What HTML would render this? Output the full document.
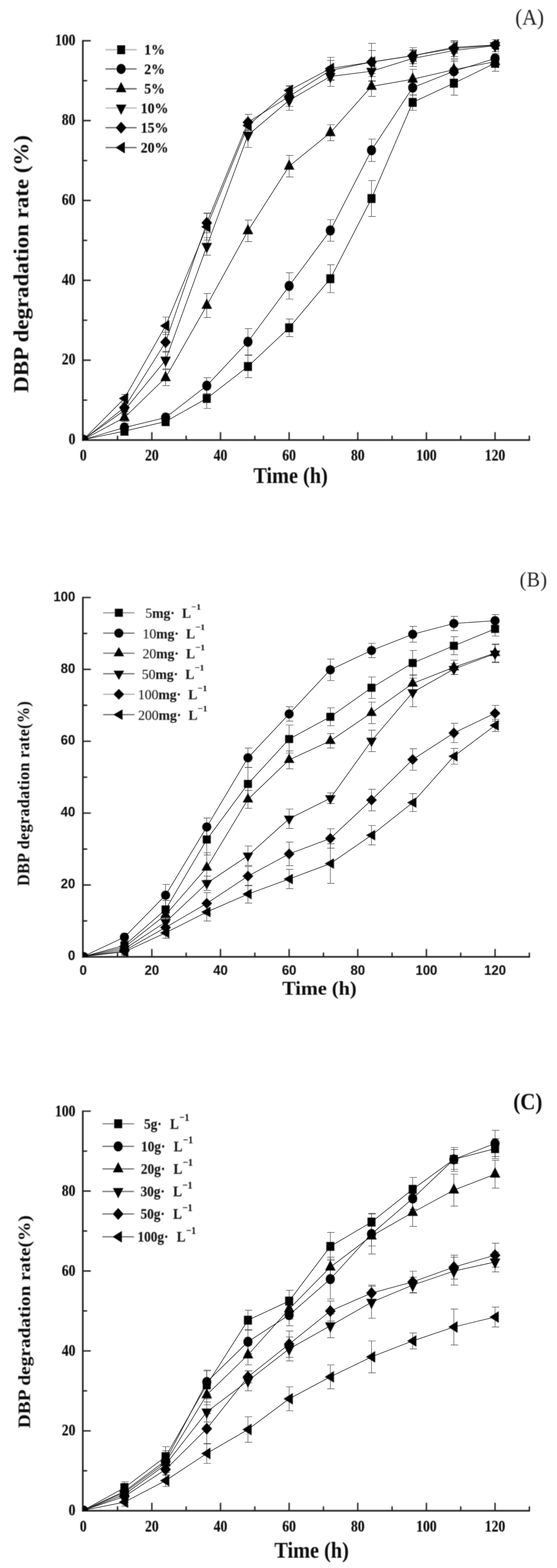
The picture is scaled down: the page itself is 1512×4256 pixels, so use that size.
<!DOCTYPE html>
<html lang="en"><head><meta charset="utf-8"><title>DBP degradation rate</title>
<style>html,body{margin:0;padding:0;background:#fff}svg{display:block}text{white-space:pre}.lh,.lc,.eh,.ec{fill:none}.lh{stroke:#000;stroke-opacity:.2;stroke-width:2.8}.lc{stroke:#2a2a2a;stroke-width:1.4}.eh{stroke:#000;stroke-opacity:.13;stroke-width:2.5}.ec{stroke:#444;stroke-width:1.15}</style></head><body>
<svg width="1512" height="4256" viewBox="0 0 1512 4256">
<rect width="1512" height="4256" fill="#fff"/>
<defs>
<filter id="soft0" x="0" y="0" width="1512" height="1420" filterUnits="userSpaceOnUse"><feGaussianBlur stdDeviation="1"/></filter>
<filter id="soft1" x="0" y="1420" width="1512" height="1440" filterUnits="userSpaceOnUse"><feGaussianBlur stdDeviation="1"/></filter>
<filter id="soft2" x="0" y="2860" width="1512" height="1396" filterUnits="userSpaceOnUse"><feGaussianBlur stdDeviation="1"/></filter>
</defs>
<g id="linesA">
<polyline class="lh" points="225.9,1193.4 337.69,1170.26 449.48,1144.27 561.28,1081.45 673.07,994.81 784.86,889.76 896.65,756.55 1008.44,538.87 1120.24,277.87 1232.03,225.88 1343.82,171.73"/><polyline class="lc" points="225.9,1193.4 337.69,1170.26 449.48,1144.27 561.28,1081.45 673.07,994.81 784.86,889.76 896.65,756.55 1008.44,538.87 1120.24,277.87 1232.03,225.88 1343.82,171.73"/>
<path class="eh" d="M337.69 1181.09V1159.43M329.19 1159.43h20M329.19 1181.09h20M449.48 1155.1V1133.43M440.98 1133.43h20M440.98 1155.1h20M561.28 1108.53V1054.38M552.78 1054.38h20M552.78 1108.53h20M673.07 1025.13V964.49M664.57 964.49h20M664.57 1025.13h20M784.86 913.59V865.93M776.36 865.93h20M776.36 913.59h20M896.65 794.46V718.65M888.15 718.65h20M888.15 794.46h20M1008.44 587.6V490.13M999.94 490.13h20M999.94 587.6h20M1120.24 299.52V256.21M1111.74 256.21h20M1111.74 299.52h20M1232.03 258.37V193.39M1223.53 193.39h20M1223.53 258.37h20M1343.82 193.39V150.07M1335.32 150.07h20M1335.32 193.39h20"/><path class="ec" d="M337.69 1181.09V1159.43M329.19 1159.43h20M329.19 1181.09h20M449.48 1155.1V1133.43M440.98 1133.43h20M440.98 1155.1h20M561.28 1108.53V1054.38M552.78 1054.38h20M552.78 1108.53h20M673.07 1025.13V964.49M664.57 964.49h20M664.57 1025.13h20M784.86 913.59V865.93M776.36 865.93h20M776.36 913.59h20M896.65 794.46V718.65M888.15 718.65h20M888.15 794.46h20M1008.44 587.6V490.13M999.94 490.13h20M999.94 587.6h20M1120.24 299.52V256.21M1111.74 256.21h20M1111.74 299.52h20M1232.03 258.37V193.39M1223.53 193.39h20M1223.53 258.37h20M1343.82 193.39V150.07M1335.32 150.07h20M1335.32 193.39h20"/>
<polyline class="lh" points="225.9,1193.4 337.69,1160.51 449.48,1133.43 561.28,1046.8 673.07,927.66 784.86,776.05 896.65,625.51 1008.44,407.83 1120.24,237.79 1232.03,193.39 1343.82,158.73"/><polyline class="lc" points="225.9,1193.4 337.69,1160.51 449.48,1133.43 561.28,1046.8 673.07,927.66 784.86,776.05 896.65,625.51 1008.44,407.83 1120.24,237.79 1232.03,193.39 1343.82,158.73"/>
<path class="eh" d="M337.69 1171.34V1149.68M329.19 1149.68h20M329.19 1171.34h20M449.48 1144.27V1122.61M440.98 1122.61h20M440.98 1144.27h20M561.28 1068.45V1025.13M552.78 1025.13h20M552.78 1068.45h20M673.07 963.4V891.93M664.57 891.93h20M664.57 963.4h20M784.86 811.78V740.31M776.36 740.31h20M776.36 811.78h20M896.65 654.75V596.27M888.15 596.27h20M888.15 654.75h20M1008.44 438.15V377.5M999.94 377.5h20M999.94 438.15h20M1120.24 259.45V216.13M1111.74 216.13h20M1111.74 259.45h20M1232.03 220.47V166.32M1223.53 166.32h20M1223.53 220.47h20M1343.82 171.73V145.74M1335.32 145.74h20M1335.32 171.73h20"/><path class="ec" d="M337.69 1171.34V1149.68M329.19 1149.68h20M329.19 1171.34h20M449.48 1144.27V1122.61M440.98 1122.61h20M440.98 1144.27h20M561.28 1068.45V1025.13M552.78 1025.13h20M552.78 1068.45h20M673.07 963.4V891.93M664.57 891.93h20M664.57 963.4h20M784.86 811.78V740.31M776.36 740.31h20M776.36 811.78h20M896.65 654.75V596.27M888.15 596.27h20M888.15 654.75h20M1008.44 438.15V377.5M999.94 377.5h20M999.94 438.15h20M1120.24 259.45V216.13M1111.74 216.13h20M1111.74 259.45h20M1232.03 220.47V166.32M1223.53 166.32h20M1223.53 220.47h20M1343.82 171.73V145.74M1335.32 145.74h20M1335.32 171.73h20"/>
<polyline class="lh" points="225.9,1193.4 337.69,1133.43 449.48,1025.13 561.28,829.11 673.07,626.59 784.86,451.14 896.65,360.17 1008.44,234.54 1120.24,215.05 1232.03,189.06 1343.82,167.4"/><polyline class="lc" points="225.9,1193.4 337.69,1133.43 449.48,1025.13 561.28,829.11 673.07,626.59 784.86,451.14 896.65,360.17 1008.44,234.54 1120.24,215.05 1232.03,189.06 1343.82,167.4"/>
<path class="eh" d="M337.69 1144.27V1122.61M329.19 1122.61h20M329.19 1144.27h20M449.48 1046.8V1003.48M440.98 1003.48h20M440.98 1046.8h20M561.28 861.6V796.62M552.78 796.62h20M552.78 861.6h20M673.07 655.83V597.35M664.57 597.35h20M664.57 655.83h20M784.86 480.39V421.9M776.36 421.9h20M776.36 480.39h20M896.65 381.83V338.51M888.15 338.51h20M888.15 381.83h20M1008.44 261.62V207.47M999.94 207.47h20M999.94 261.62h20M1120.24 242.13V187.98M1111.74 187.98h20M1111.74 242.13h20M1232.03 216.13V161.98M1223.53 161.98h20M1223.53 216.13h20M1343.82 182.56V152.24M1335.32 152.24h20M1335.32 182.56h20"/><path class="ec" d="M337.69 1144.27V1122.61M329.19 1122.61h20M329.19 1144.27h20M449.48 1046.8V1003.48M440.98 1003.48h20M440.98 1046.8h20M561.28 861.6V796.62M552.78 796.62h20M552.78 861.6h20M673.07 655.83V597.35M664.57 597.35h20M664.57 655.83h20M784.86 480.39V421.9M776.36 421.9h20M776.36 480.39h20M896.65 381.83V338.51M888.15 338.51h20M888.15 381.83h20M1008.44 261.62V207.47M999.94 207.47h20M999.94 261.62h20M1120.24 242.13V187.98M1111.74 187.98h20M1111.74 242.13h20M1232.03 216.13V161.98M1223.53 161.98h20M1223.53 216.13h20M1343.82 182.56V152.24M1335.32 152.24h20M1335.32 182.56h20"/>
<polyline class="lh" points="225.9,1193.4 337.69,1113.94 449.48,977.48 561.28,668.83 673.07,366.67 784.86,272.45 896.65,207.47 1008.44,193.39 1120.24,158.73 1232.03,137.08 1343.82,124.08"/><polyline class="lc" points="225.9,1193.4 337.69,1113.94 449.48,977.48 561.28,668.83 673.07,366.67 784.86,272.45 896.65,207.47 1008.44,193.39 1120.24,158.73 1232.03,137.08 1343.82,124.08"/>
<path class="eh" d="M337.69 1124.77V1103.11M329.19 1103.11h20M329.19 1124.77h20M449.48 1001.31V953.66M440.98 953.66h20M440.98 1001.31h20M561.28 692.65V645M552.78 645h20M552.78 692.65h20M673.07 400.24V333.1M664.57 333.1h20M664.57 400.24h20M784.86 299.52V245.38M776.36 245.38h20M776.36 299.52h20M896.65 234.54V180.39M888.15 180.39h20M888.15 234.54h20M1008.44 220.47V166.32M999.94 166.32h20M999.94 220.47h20M1120.24 180.39V137.08M1111.74 137.08h20M1111.74 180.39h20M1232.03 158.73V115.41M1223.53 115.41h20M1223.53 158.73h20M1343.82 140.32V107.83M1335.32 107.83h20M1335.32 140.32h20"/><path class="ec" d="M337.69 1124.77V1103.11M329.19 1103.11h20M329.19 1124.77h20M449.48 1001.31V953.66M440.98 953.66h20M440.98 1001.31h20M561.28 692.65V645M552.78 645h20M552.78 692.65h20M673.07 400.24V333.1M664.57 333.1h20M664.57 400.24h20M784.86 299.52V245.38M776.36 245.38h20M776.36 299.52h20M896.65 234.54V180.39M888.15 180.39h20M888.15 234.54h20M1008.44 220.47V166.32M999.94 166.32h20M999.94 220.47h20M1120.24 180.39V137.08M1111.74 137.08h20M1111.74 180.39h20M1232.03 158.73V115.41M1223.53 115.41h20M1223.53 158.73h20M1343.82 140.32V107.83M1335.32 107.83h20M1335.32 140.32h20"/>
<polyline class="lh" points="225.9,1193.4 337.69,1106.36 449.48,928.75 561.28,604.93 673.07,332.01 784.86,261.62 896.65,191.23 1008.44,168.48 1120.24,151.15 1232.03,131.66 1343.82,123"/><polyline class="lc" points="225.9,1193.4 337.69,1106.36 449.48,928.75 561.28,604.93 673.07,332.01 784.86,261.62 896.65,191.23 1008.44,168.48 1120.24,151.15 1232.03,131.66 1343.82,123"/>
<path class="eh" d="M337.69 1117.19V1095.53M329.19 1095.53h20M329.19 1117.19h20M449.48 955.82V901.67M440.98 901.67h20M440.98 955.82h20M561.28 632.01V577.86M552.78 577.86h20M552.78 632.01h20M673.07 353.67V310.36M664.57 310.36h20M664.57 353.67h20M784.86 288.7V234.54M776.36 234.54h20M776.36 288.7h20M896.65 218.3V164.15M888.15 164.15h20M888.15 218.3h20M1008.44 199.89V137.08M999.94 137.08h20M999.94 199.89h20M1120.24 172.81V129.49M1111.74 129.49h20M1111.74 172.81h20M1232.03 153.32V110M1223.53 110h20M1223.53 153.32h20M1343.82 131.66V114.33M1335.32 114.33h20M1335.32 131.66h20"/><path class="ec" d="M337.69 1117.19V1095.53M329.19 1095.53h20M329.19 1117.19h20M449.48 955.82V901.67M440.98 901.67h20M440.98 955.82h20M561.28 632.01V577.86M552.78 577.86h20M552.78 632.01h20M673.07 353.67V310.36M664.57 310.36h20M664.57 353.67h20M784.86 288.7V234.54M776.36 234.54h20M776.36 288.7h20M896.65 218.3V164.15M888.15 164.15h20M888.15 218.3h20M1008.44 199.89V137.08M999.94 137.08h20M999.94 199.89h20M1120.24 172.81V129.49M1111.74 129.49h20M1111.74 172.81h20M1232.03 153.32V110M1223.53 110h20M1223.53 153.32h20M1343.82 131.66V114.33M1335.32 114.33h20M1335.32 131.66h20"/>
<polyline class="lh" points="225.9,1193.4 337.69,1081.45 449.48,884.35 561.28,615.76 673.07,340.68 784.86,245.38 896.65,185.81 1008.44,168.48 1120.24,151.15 1232.03,128.41 1343.82,121.91"/><polyline class="lc" points="225.9,1193.4 337.69,1081.45 449.48,884.35 561.28,615.76 673.07,340.68 784.86,245.38 896.65,185.81 1008.44,168.48 1120.24,151.15 1232.03,128.41 1343.82,121.91"/>
<path class="eh" d="M337.69 1092.28V1070.62M329.19 1070.62h20M329.19 1092.28h20M449.48 908.17V860.52M440.98 860.52h20M440.98 908.17h20M561.28 651.5V580.02M552.78 580.02h20M552.78 651.5h20M673.07 353.67V327.68M664.57 327.68h20M664.57 353.67h20M784.86 258.37V232.38M776.36 232.38h20M776.36 258.37h20M896.65 216.13V155.49M888.15 155.49h20M888.15 216.13h20M1008.44 219.38V117.58M999.94 117.58h20M999.94 219.38h20M1120.24 167.4V134.91M1111.74 134.91h20M1111.74 167.4h20M1232.03 144.66V112.17M1223.53 112.17h20M1223.53 144.66h20M1343.82 130.58V113.25M1335.32 113.25h20M1335.32 130.58h20"/><path class="ec" d="M337.69 1092.28V1070.62M329.19 1070.62h20M329.19 1092.28h20M449.48 908.17V860.52M440.98 860.52h20M440.98 908.17h20M561.28 651.5V580.02M552.78 580.02h20M552.78 651.5h20M673.07 353.67V327.68M664.57 327.68h20M664.57 353.67h20M784.86 258.37V232.38M776.36 232.38h20M776.36 258.37h20M896.65 216.13V155.49M888.15 155.49h20M888.15 216.13h20M1008.44 219.38V117.58M999.94 117.58h20M999.94 219.38h20M1120.24 167.4V134.91M1111.74 134.91h20M1111.74 167.4h20M1232.03 144.66V112.17M1223.53 112.17h20M1223.53 144.66h20M1343.82 130.58V113.25M1335.32 113.25h20M1335.32 130.58h20"/>
</g>
<g id="chartA" filter="url(#soft0)">
<g stroke="#1a1a1a" stroke-width="4.3" fill="none">
<path d="M224.9 108.8 V1196.55"/>
<path d="M222.75 1194.4 H1438.78"/>
</g><g stroke="#1a1a1a" stroke-width="3.6" fill="none">
<path d="M224.9 1086.02h11.8M224.9 977.64h21.5M224.9 869.26h11.8M224.9 760.88h21.5M224.9 652.5h11.8M224.9 544.12h21.5M224.9 435.74h11.8M224.9 327.36h21.5M224.9 218.98h11.8M224.9 110.6h21.5M319.06 1194.4v-11.8M412.22 1194.4v-21.5M505.38 1194.4v-11.8M598.54 1194.4v-21.5M691.7 1194.4v-11.8M784.86 1194.4v-21.5M878.02 1194.4v-11.8M971.18 1194.4v-21.5M1064.34 1194.4v-11.8M1157.5 1194.4v-21.5M1250.66 1194.4v-11.8M1343.82 1194.4v-21.5M1436.98 1194.4v-11.8"/>
</g>
<g>
<text transform="translate(204.7,1205.8) scale(1,1.19)" font-family='"Liberation Serif", "DejaVu Serif", serif' font-size="37" font-weight="bold" text-anchor="end" fill="#111" stroke="#111" stroke-width="0.3">0</text>
<text transform="translate(204.7,989.2) scale(1,1.19)" font-family='"Liberation Serif", "DejaVu Serif", serif' font-size="37" font-weight="bold" text-anchor="end" fill="#111" stroke="#111" stroke-width="0.3">20</text>
<text transform="translate(204.7,772.6) scale(1,1.19)" font-family='"Liberation Serif", "DejaVu Serif", serif' font-size="37" font-weight="bold" text-anchor="end" fill="#111" stroke="#111" stroke-width="0.3">40</text>
<text transform="translate(204.7,556) scale(1,1.19)" font-family='"Liberation Serif", "DejaVu Serif", serif' font-size="37" font-weight="bold" text-anchor="end" fill="#111" stroke="#111" stroke-width="0.3">60</text>
<text transform="translate(204.7,339.4) scale(1,1.19)" font-family='"Liberation Serif", "DejaVu Serif", serif' font-size="37" font-weight="bold" text-anchor="end" fill="#111" stroke="#111" stroke-width="0.3">80</text>
<text transform="translate(204.7,122.8) scale(1,1.19)" font-family='"Liberation Serif", "DejaVu Serif", serif' font-size="37" font-weight="bold" text-anchor="end" fill="#111" stroke="#111" stroke-width="0.3">100</text>
<text transform="translate(225.9,1250) scale(1,1.19)" font-family='"Liberation Serif", "DejaVu Serif", serif' font-size="37" font-weight="bold" text-anchor="middle" fill="#111" stroke="#111" stroke-width="0.3">0</text>
<text transform="translate(412.22,1250) scale(1,1.19)" font-family='"Liberation Serif", "DejaVu Serif", serif' font-size="37" font-weight="bold" text-anchor="middle" fill="#111" stroke="#111" stroke-width="0.3">20</text>
<text transform="translate(598.54,1250) scale(1,1.19)" font-family='"Liberation Serif", "DejaVu Serif", serif' font-size="37" font-weight="bold" text-anchor="middle" fill="#111" stroke="#111" stroke-width="0.3">40</text>
<text transform="translate(784.86,1250) scale(1,1.19)" font-family='"Liberation Serif", "DejaVu Serif", serif' font-size="37" font-weight="bold" text-anchor="middle" fill="#111" stroke="#111" stroke-width="0.3">60</text>
<text transform="translate(971.18,1250) scale(1,1.19)" font-family='"Liberation Serif", "DejaVu Serif", serif' font-size="37" font-weight="bold" text-anchor="middle" fill="#111" stroke="#111" stroke-width="0.3">80</text>
<text transform="translate(1157.5,1250) scale(1,1.19)" font-family='"Liberation Serif", "DejaVu Serif", serif' font-size="37" font-weight="bold" text-anchor="middle" fill="#111" stroke="#111" stroke-width="0.3">100</text>
<text transform="translate(1343.82,1250) scale(1,1.19)" font-family='"Liberation Serif", "DejaVu Serif", serif' font-size="37" font-weight="bold" text-anchor="middle" fill="#111" stroke="#111" stroke-width="0.3">120</text>
</g>
<g fill="#000">
<rect x="326.84" y="1158.21" width="21.7" height="24.09"/>
<rect x="438.63" y="1132.22" width="21.7" height="24.09"/>
<rect x="550.43" y="1069.41" width="21.7" height="24.09"/>
<rect x="662.22" y="982.77" width="21.7" height="24.09"/>
<rect x="774.01" y="877.72" width="21.7" height="24.09"/>
<rect x="885.8" y="744.51" width="21.7" height="24.09"/>
<rect x="997.59" y="526.82" width="21.7" height="24.09"/>
<rect x="1109.39" y="265.82" width="21.7" height="24.09"/>
<rect x="1221.18" y="213.84" width="21.7" height="24.09"/>
<rect x="1332.97" y="159.69" width="21.7" height="24.09"/>
</g>
<g fill="#000">
<ellipse cx="337.69" cy="1160.51" rx="12.3" ry="13.65"/>
<ellipse cx="449.48" cy="1133.43" rx="12.3" ry="13.65"/>
<ellipse cx="561.28" cy="1046.8" rx="12.3" ry="13.65"/>
<ellipse cx="673.07" cy="927.66" rx="12.3" ry="13.65"/>
<ellipse cx="784.86" cy="776.05" rx="12.3" ry="13.65"/>
<ellipse cx="896.65" cy="625.51" rx="12.3" ry="13.65"/>
<ellipse cx="1008.44" cy="407.83" rx="12.3" ry="13.65"/>
<ellipse cx="1120.24" cy="237.79" rx="12.3" ry="13.65"/>
<ellipse cx="1232.03" cy="193.39" rx="12.3" ry="13.65"/>
<ellipse cx="1343.82" cy="158.73" rx="12.3" ry="13.65"/>
</g>
<g fill="#000">
<polygon points="337.69,1114.93 323.44,1142.68 351.94,1142.68"/>
<polygon points="449.48,1006.63 435.23,1034.38 463.73,1034.38"/>
<polygon points="561.28,810.61 547.03,838.36 575.53,838.36"/>
<polygon points="673.07,608.09 658.82,635.84 687.32,635.84"/>
<polygon points="784.86,432.64 770.61,460.39 799.11,460.39"/>
<polygon points="896.65,341.67 882.4,369.42 910.9,369.42"/>
<polygon points="1008.44,216.04 994.19,243.79 1022.69,243.79"/>
<polygon points="1120.24,196.55 1105.99,224.3 1134.49,224.3"/>
<polygon points="1232.03,170.56 1217.78,198.31 1246.28,198.31"/>
<polygon points="1343.82,148.9 1329.57,176.65 1358.07,176.65"/>
</g>
<g fill="#000">
<polygon points="337.69,1132.44 323.44,1104.69 351.94,1104.69"/>
<polygon points="449.48,995.98 435.23,968.23 463.73,968.23"/>
<polygon points="561.28,687.33 547.03,659.58 575.53,659.58"/>
<polygon points="673.07,385.17 658.82,357.42 687.32,357.42"/>
<polygon points="784.86,290.95 770.61,263.2 799.11,263.2"/>
<polygon points="896.65,225.97 882.4,198.22 910.9,198.22"/>
<polygon points="1008.44,211.89 994.19,184.14 1022.69,184.14"/>
<polygon points="1120.24,177.23 1105.99,149.48 1134.49,149.48"/>
<polygon points="1232.03,155.58 1217.78,127.83 1246.28,127.83"/>
<polygon points="1343.82,142.58 1329.57,114.83 1358.07,114.83"/>
</g>
<g fill="#000">
<polygon points="337.69,1090.26 352.19,1106.36 337.69,1122.45 323.19,1106.36"/>
<polygon points="449.48,912.65 463.98,928.75 449.48,944.84 434.98,928.75"/>
<polygon points="561.28,588.84 575.78,604.93 561.28,621.03 546.78,604.93"/>
<polygon points="673.07,315.92 687.57,332.01 673.07,348.11 658.57,332.01"/>
<polygon points="784.86,245.53 799.36,261.62 784.86,277.72 770.36,261.62"/>
<polygon points="896.65,175.13 911.15,191.23 896.65,207.32 882.15,191.23"/>
<polygon points="1008.44,152.39 1022.94,168.48 1008.44,184.58 993.94,168.48"/>
<polygon points="1120.24,135.06 1134.74,151.15 1120.24,167.25 1105.74,151.15"/>
<polygon points="1232.03,115.57 1246.53,131.66 1232.03,147.76 1217.53,131.66"/>
<polygon points="1343.82,106.9 1358.32,123 1343.82,139.09 1329.32,123"/>
</g>
<g fill="#000">
<polygon points="322.69,1081.45 347.69,1065.63 347.69,1097.27"/>
<polygon points="434.48,884.35 459.48,868.53 459.48,900.16"/>
<polygon points="546.28,615.76 571.28,599.94 571.28,631.58"/>
<polygon points="658.07,340.68 683.07,324.86 683.07,356.5"/>
<polygon points="769.86,245.38 794.86,229.56 794.86,261.19"/>
<polygon points="881.65,185.81 906.65,169.99 906.65,201.63"/>
<polygon points="993.44,168.48 1018.44,152.66 1018.44,184.3"/>
<polygon points="1105.24,151.15 1130.24,135.34 1130.24,166.97"/>
<polygon points="1217.03,128.41 1242.03,112.59 1242.03,144.23"/>
<polygon points="1328.82,121.91 1353.82,106.1 1353.82,137.73"/>
</g>
<path fill="#000" d="M224.9 1194.4H239.4A13 12.77 0 0 0 224.9 1180.13Z"/>
<path d="M286.5 135 H371" stroke="#aaa" stroke-width="2.8"/>
<g fill="#000"><rect x="317.95" y="122.96" width="21.7" height="24.09"/></g>
<text transform="translate(391.5,148.3) scale(1.04,1.11)" font-family='"Liberation Serif", "DejaVu Serif", serif' font-size="36" font-weight="bold" text-anchor="start" fill="#111" stroke="#111" stroke-width="0.3">1%</text>
<path d="M286.5 187.2 H371" stroke="#444" stroke-width="2.8"/>
<g fill="#000"><ellipse cx="328.8" cy="187.2" rx="12.3" ry="13.65"/></g>
<text transform="translate(391.5,200.5) scale(1.04,1.11)" font-family='"Liberation Serif", "DejaVu Serif", serif' font-size="36" font-weight="bold" text-anchor="start" fill="#111" stroke="#111" stroke-width="0.3">2%</text>
<path d="M286.5 241 H371" stroke="#444" stroke-width="2.8"/>
<g fill="#000"><polygon points="328.8,222.5 314.55,250.25 343.05,250.25"/></g>
<text transform="translate(391.5,254.3) scale(1.04,1.11)" font-family='"Liberation Serif", "DejaVu Serif", serif' font-size="36" font-weight="bold" text-anchor="start" fill="#111" stroke="#111" stroke-width="0.3">5%</text>
<path d="M286.5 293.2 H371" stroke="#aaa" stroke-width="2.8"/>
<g fill="#000"><polygon points="328.8,311.7 314.55,283.95 343.05,283.95"/></g>
<text transform="translate(382,306.5) scale(1.04,1.11)" font-family='"Liberation Serif", "DejaVu Serif", serif' font-size="36" font-weight="bold" text-anchor="start" fill="#111" stroke="#111" stroke-width="0.3">10%</text>
<path d="M286.5 346.6 H371" stroke="#444" stroke-width="2.8"/>
<g fill="#000"><polygon points="328.8,330.5 343.3,346.6 328.8,362.7 314.3,346.6"/></g>
<text transform="translate(382,359.9) scale(1.04,1.11)" font-family='"Liberation Serif", "DejaVu Serif", serif' font-size="36" font-weight="bold" text-anchor="start" fill="#111" stroke="#111" stroke-width="0.3">15%</text>
<path d="M286.5 400.6 H371" stroke="#444" stroke-width="2.8"/>
<g fill="#000"><polygon points="313.8,400.6 338.8,384.78 338.8,416.42"/></g>
<text transform="translate(382,413.9) scale(1.04,1.11)" font-family='"Liberation Serif", "DejaVu Serif", serif' font-size="36" font-weight="bold" text-anchor="start" fill="#111" stroke="#111" stroke-width="0.3">20%</text>
<text transform="translate(788.7,1311) scale(1,1.11)" font-family='"Liberation Serif", "DejaVu Serif", serif' font-size="55" font-weight="bold" text-anchor="middle" fill="#111">Time (h)</text>
<text transform="translate(76.5,716.3) rotate(-90) scale(1.11,1)" font-family='"Liberation Serif", "DejaVu Serif", serif' font-size="56" font-weight="bold" text-anchor="middle" fill="#111">DBP degradation rate (%)</text>
<text transform="translate(1437.7,67.2) scale(1,1.1)" font-family='"Liberation Serif", "DejaVu Serif", serif' font-size="56" font-weight="normal" text-anchor="middle" fill="#222">(A)</text>
</g>
<g id="linesB">
<polyline class="lh" points="226,2596.2 337.69,2566.08 449.48,2468.68 561.28,2278.75 673.07,2127.78 784.86,2006.03 896.65,1945.64 1008.44,1866.75 1120.24,1799.54 1232.03,1752.79 1343.82,1707.01"/><polyline class="lc" points="226,2596.2 337.69,2566.08 449.48,2468.68 561.28,2278.75 673.07,2127.78 784.86,2006.03 896.65,1945.64 1008.44,1866.75 1120.24,1799.54 1232.03,1752.79 1343.82,1707.01"/>
<path class="eh" d="M337.69 2575.82V2556.34M329.19 2556.34h20M329.19 2575.82h20M449.48 2493.03V2444.33M440.98 2444.33h20M440.98 2493.03h20M561.28 2320.63V2236.87M552.78 2236.87h20M552.78 2320.63h20M673.07 2172.58V2082.98M664.57 2082.98h20M664.57 2172.58h20M784.86 2044.02V1968.04M776.36 1968.04h20M776.36 2044.02h20M896.65 1969.99V1921.29M888.15 1921.29h20M888.15 1969.99h20M1008.44 1895.97V1837.53M999.94 1837.53h20M999.94 1895.97h20M1120.24 1833.63V1765.45M1111.74 1765.45h20M1111.74 1833.63h20M1232.03 1777.14V1728.44M1223.53 1728.44h20M1223.53 1777.14h20M1343.82 1726.49V1687.53M1335.32 1687.53h20M1335.32 1726.49h20"/><path class="ec" d="M337.69 2575.82V2556.34M329.19 2556.34h20M329.19 2575.82h20M449.48 2493.03V2444.33M440.98 2444.33h20M440.98 2493.03h20M561.28 2320.63V2236.87M552.78 2236.87h20M552.78 2320.63h20M673.07 2172.58V2082.98M664.57 2082.98h20M664.57 2172.58h20M784.86 2044.02V1968.04M776.36 1968.04h20M776.36 2044.02h20M896.65 1969.99V1921.29M888.15 1921.29h20M888.15 1969.99h20M1008.44 1895.97V1837.53M999.94 1837.53h20M999.94 1895.97h20M1120.24 1833.63V1765.45M1111.74 1765.45h20M1111.74 1833.63h20M1232.03 1777.14V1728.44M1223.53 1728.44h20M1223.53 1777.14h20M1343.82 1726.49V1687.53M1335.32 1687.53h20M1335.32 1726.49h20"/>
<polyline class="lh" points="226,2596.2 337.69,2543.68 449.48,2429.72 561.28,2244.66 673.07,2056.68 784.86,1937.85 896.65,1818.05 1008.44,1765.45 1120.24,1721.62 1232.03,1692.4 1343.82,1684.61"/><polyline class="lc" points="226,2596.2 337.69,2543.68 449.48,2429.72 561.28,2244.66 673.07,2056.68 784.86,1937.85 896.65,1818.05 1008.44,1765.45 1120.24,1721.62 1232.03,1692.4 1343.82,1684.61"/>
<path class="eh" d="M337.69 2553.42V2533.94M329.19 2533.94h20M329.19 2553.42h20M449.48 2458.94V2400.5M440.98 2400.5h20M440.98 2458.94h20M561.28 2269.01V2220.31M552.78 2220.31h20M552.78 2269.01h20M673.07 2082.98V2030.38M664.57 2030.38h20M664.57 2082.98h20M784.86 1957.33V1918.37M776.36 1918.37h20M776.36 1957.33h20M896.65 1847.27V1788.83M888.15 1788.83h20M888.15 1847.27h20M1008.44 1784.93V1745.97M999.94 1745.97h20M999.94 1784.93h20M1120.24 1743.05V1700.19M1111.74 1700.19h20M1111.74 1743.05h20M1232.03 1711.88V1672.92M1223.53 1672.92h20M1223.53 1711.88h20M1343.82 1701.17V1668.05M1335.32 1668.05h20M1335.32 1701.17h20"/><path class="ec" d="M337.69 2553.42V2533.94M329.19 2533.94h20M329.19 2553.42h20M449.48 2458.94V2400.5M440.98 2400.5h20M440.98 2458.94h20M561.28 2269.01V2220.31M552.78 2220.31h20M552.78 2269.01h20M673.07 2082.98V2030.38M664.57 2030.38h20M664.57 2082.98h20M784.86 1957.33V1918.37M776.36 1918.37h20M776.36 1957.33h20M896.65 1847.27V1788.83M888.15 1788.83h20M888.15 1847.27h20M1008.44 1784.93V1745.97M999.94 1745.97h20M999.94 1784.93h20M1120.24 1743.05V1700.19M1111.74 1700.19h20M1111.74 1743.05h20M1232.03 1711.88V1672.92M1223.53 1672.92h20M1223.53 1711.88h20M1343.82 1701.17V1668.05M1335.32 1668.05h20M1335.32 1701.17h20"/>
<polyline class="lh" points="226,2596.2 337.69,2570.95 449.48,2483.29 561.28,2354.72 673.07,2169.66 784.86,2062.52 896.65,2010.9 1008.44,1934.93 1120.24,1855.06 1232.03,1811.23 1343.82,1772.27"/><polyline class="lc" points="226,2596.2 337.69,2570.95 449.48,2483.29 561.28,2354.72 673.07,2169.66 784.86,2062.52 896.65,2010.9 1008.44,1934.93 1120.24,1855.06 1232.03,1811.23 1343.82,1772.27"/>
<path class="eh" d="M337.69 2580.69V2561.21M329.19 2561.21h20M329.19 2580.69h20M449.48 2502.77V2463.81M440.98 2463.81h20M440.98 2502.77h20M561.28 2388.81V2314.79M552.78 2314.79h20M552.78 2388.81h20M673.07 2194.01V2145.31M664.57 2145.31h20M664.57 2194.01h20M784.86 2086.87V2038.17M776.36 2038.17h20M776.36 2086.87h20M896.65 2030.38V1991.42M888.15 1991.42h20M888.15 2030.38h20M1008.44 1964.15V1905.71M999.94 1905.71h20M999.94 1964.15h20M1120.24 1879.41V1830.71M1111.74 1830.71h20M1111.74 1879.41h20M1232.03 1830.71V1791.75M1223.53 1791.75h20M1223.53 1830.71h20M1343.82 1796.62V1747.92M1335.32 1747.92h20M1335.32 1796.62h20"/><path class="ec" d="M337.69 2580.69V2561.21M329.19 2561.21h20M329.19 2580.69h20M449.48 2502.77V2463.81M440.98 2463.81h20M440.98 2502.77h20M561.28 2388.81V2314.79M552.78 2314.79h20M552.78 2388.81h20M673.07 2194.01V2145.31M664.57 2145.31h20M664.57 2194.01h20M784.86 2086.87V2038.17M776.36 2038.17h20M776.36 2086.87h20M896.65 2030.38V1991.42M888.15 1991.42h20M888.15 2030.38h20M1008.44 1964.15V1905.71M999.94 1905.71h20M999.94 1964.15h20M1120.24 1879.41V1830.71M1111.74 1830.71h20M1111.74 1879.41h20M1232.03 1830.71V1791.75M1223.53 1791.75h20M1223.53 1830.71h20M1343.82 1796.62V1747.92M1335.32 1747.92h20M1335.32 1796.62h20"/>
<polyline class="lh" points="226,2596.2 337.69,2575.82 449.48,2502.77 561.28,2397.58 673.07,2322.58 784.86,2222.26 896.65,2166.74 1008.44,2010.9 1120.24,1879.41 1232.03,1816.1 1343.82,1774.22"/><polyline class="lc" points="226,2596.2 337.69,2575.82 449.48,2502.77 561.28,2397.58 673.07,2322.58 784.86,2222.26 896.65,2166.74 1008.44,2010.9 1120.24,1879.41 1232.03,1816.1 1343.82,1774.22"/>
<path class="eh" d="M337.69 2585.56V2566.08M329.19 2566.08h20M329.19 2585.56h20M449.48 2517.38V2488.16M440.98 2488.16h20M440.98 2517.38h20M561.28 2417.06V2378.1M552.78 2378.1h20M552.78 2417.06h20M673.07 2348.88V2296.28M664.57 2296.28h20M664.57 2348.88h20M784.86 2248.56V2195.96M776.36 2195.96h20M776.36 2248.56h20M896.65 2181.35V2152.13M888.15 2152.13h20M888.15 2181.35h20M1008.44 2040.12V1981.68M999.94 1981.68h20M999.94 2040.12h20M1120.24 1918.37V1840.45M1111.74 1840.45h20M1111.74 1918.37h20M1232.03 1830.71V1801.49M1223.53 1801.49h20M1223.53 1830.71h20M1343.82 1798.57V1749.87M1335.32 1749.87h20M1335.32 1798.57h20"/><path class="ec" d="M337.69 2585.56V2566.08M329.19 2566.08h20M329.19 2585.56h20M449.48 2517.38V2488.16M440.98 2488.16h20M440.98 2517.38h20M561.28 2417.06V2378.1M552.78 2378.1h20M552.78 2417.06h20M673.07 2348.88V2296.28M664.57 2296.28h20M664.57 2348.88h20M784.86 2248.56V2195.96M776.36 2195.96h20M776.36 2248.56h20M896.65 2181.35V2152.13M888.15 2152.13h20M888.15 2181.35h20M1008.44 2040.12V1981.68M999.94 1981.68h20M999.94 2040.12h20M1120.24 1918.37V1840.45M1111.74 1840.45h20M1111.74 1918.37h20M1232.03 1830.71V1801.49M1223.53 1801.49h20M1223.53 1830.71h20M1343.82 1798.57V1749.87M1335.32 1749.87h20M1335.32 1798.57h20"/>
<polyline class="lh" points="226,2596.2 337.69,2580.69 449.48,2517.38 561.28,2452.12 673.07,2378.1 784.86,2317.71 896.65,2275.83 1008.44,2171.61 1120.24,2061.55 1232.03,1989.47 1343.82,1935.9"/><polyline class="lc" points="226,2596.2 337.69,2580.69 449.48,2517.38 561.28,2452.12 673.07,2378.1 784.86,2317.71 896.65,2275.83 1008.44,2171.61 1120.24,2061.55 1232.03,1989.47 1343.82,1935.9"/>
<path class="eh" d="M337.69 2590.43V2570.95M329.19 2570.95h20M329.19 2590.43h20M449.48 2531.99V2502.77M440.98 2502.77h20M440.98 2531.99h20M561.28 2481.34V2422.9M552.78 2422.9h20M552.78 2481.34h20M673.07 2404.4V2351.8M664.57 2351.8h20M664.57 2404.4h20M784.86 2349.85V2285.57M776.36 2285.57h20M776.36 2349.85h20M896.65 2302.13V2249.53M888.15 2249.53h20M888.15 2302.13h20M1008.44 2200.83V2142.39M999.94 2142.39h20M999.94 2200.83h20M1120.24 2090.77V2032.33M1111.74 2032.33h20M1111.74 2090.77h20M1232.03 2015.77V1963.17M1223.53 1963.17h20M1223.53 2015.77h20M1343.82 1957.33V1914.47M1335.32 1914.47h20M1335.32 1957.33h20"/><path class="ec" d="M337.69 2590.43V2570.95M329.19 2570.95h20M329.19 2590.43h20M449.48 2531.99V2502.77M440.98 2502.77h20M440.98 2531.99h20M561.28 2481.34V2422.9M552.78 2422.9h20M552.78 2481.34h20M673.07 2404.4V2351.8M664.57 2351.8h20M664.57 2404.4h20M784.86 2349.85V2285.57M776.36 2285.57h20M776.36 2349.85h20M896.65 2302.13V2249.53M888.15 2249.53h20M888.15 2302.13h20M1008.44 2200.83V2142.39M999.94 2142.39h20M999.94 2200.83h20M1120.24 2090.77V2032.33M1111.74 2032.33h20M1111.74 2090.77h20M1232.03 2015.77V1963.17M1223.53 1963.17h20M1223.53 2015.77h20M1343.82 1957.33V1914.47M1335.32 1914.47h20M1335.32 1957.33h20"/>
<polyline class="lh" points="226,2596.2 337.69,2583.61 449.48,2531.99 561.28,2475.5 673.07,2426.8 784.86,2385.89 896.65,2344.01 1008.44,2267.06 1120.24,2178.43 1232.03,2052.78 1343.82,1969.02"/><polyline class="lc" points="226,2596.2 337.69,2583.61 449.48,2531.99 561.28,2475.5 673.07,2426.8 784.86,2385.89 896.65,2344.01 1008.44,2267.06 1120.24,2178.43 1232.03,2052.78 1343.82,1969.02"/>
<path class="eh" d="M337.69 2593.35V2573.87M329.19 2573.87h20M329.19 2593.35h20M449.48 2546.6V2517.38M440.98 2517.38h20M440.98 2546.6h20M561.28 2499.85V2451.15M552.78 2451.15h20M552.78 2499.85h20M673.07 2451.15V2402.45M664.57 2402.45h20M664.57 2451.15h20M784.86 2412.19V2359.59M776.36 2359.59h20M776.36 2412.19h20M896.65 2397.58V2290.44M888.15 2290.44h20M888.15 2397.58h20M1008.44 2293.36V2240.76M999.94 2240.76h20M999.94 2293.36h20M1120.24 2202.78V2154.08M1111.74 2154.08h20M1111.74 2202.78h20M1232.03 2074.21V2031.35M1223.53 2031.35h20M1223.53 2074.21h20M1343.82 1985.58V1952.46M1335.32 1952.46h20M1335.32 1985.58h20"/><path class="ec" d="M337.69 2593.35V2573.87M329.19 2573.87h20M329.19 2593.35h20M449.48 2546.6V2517.38M440.98 2517.38h20M440.98 2546.6h20M561.28 2499.85V2451.15M552.78 2451.15h20M552.78 2499.85h20M673.07 2451.15V2402.45M664.57 2402.45h20M664.57 2451.15h20M784.86 2412.19V2359.59M776.36 2359.59h20M776.36 2412.19h20M896.65 2397.58V2290.44M888.15 2290.44h20M888.15 2397.58h20M1008.44 2293.36V2240.76M999.94 2240.76h20M999.94 2293.36h20M1120.24 2202.78V2154.08M1111.74 2154.08h20M1111.74 2202.78h20M1232.03 2074.21V2031.35M1223.53 2031.35h20M1223.53 2074.21h20M1343.82 1985.58V1952.46M1335.32 1952.46h20M1335.32 1985.58h20"/>
</g>
<g id="chartB" filter="url(#soft1)">
<g stroke="#1a1a1a" stroke-width="4.3" fill="none">
<path d="M225 1620 V2599.35"/>
<path d="M222.85 2597.2 H1438.78"/>
</g><g stroke="#1a1a1a" stroke-width="3.6" fill="none">
<path d="M225 2499.66h11.8M225 2402.12h21.5M225 2304.58h11.8M225 2207.04h21.5M225 2109.5h11.8M225 2011.96h21.5M225 1914.42h11.8M225 1816.88h21.5M225 1719.34h11.8M225 1621.8h21.5M319.06 2597.2v-11.8M412.22 2597.2v-21.5M505.38 2597.2v-11.8M598.54 2597.2v-21.5M691.7 2597.2v-11.8M784.86 2597.2v-21.5M878.02 2597.2v-11.8M971.18 2597.2v-21.5M1064.34 2597.2v-11.8M1157.5 2597.2v-21.5M1250.66 2597.2v-11.8M1343.82 2597.2v-21.5M1436.98 2597.2v-11.8"/>
</g>
<g>
<text transform="translate(204.2,2605.7) scale(1,1.05)" font-family='"Liberation Sans", "DejaVu Sans", sans-serif' font-size="35.5" font-weight="bold" text-anchor="end" fill="#111">0</text>
<text transform="translate(204.2,2410.9) scale(1,1.05)" font-family='"Liberation Sans", "DejaVu Sans", sans-serif' font-size="35.5" font-weight="bold" text-anchor="end" fill="#111">20</text>
<text transform="translate(204.2,2216.1) scale(1,1.05)" font-family='"Liberation Sans", "DejaVu Sans", sans-serif' font-size="35.5" font-weight="bold" text-anchor="end" fill="#111">40</text>
<text transform="translate(204.2,2021.3) scale(1,1.05)" font-family='"Liberation Sans", "DejaVu Sans", sans-serif' font-size="35.5" font-weight="bold" text-anchor="end" fill="#111">60</text>
<text transform="translate(204.2,1826.5) scale(1,1.05)" font-family='"Liberation Sans", "DejaVu Sans", sans-serif' font-size="35.5" font-weight="bold" text-anchor="end" fill="#111">80</text>
<text transform="translate(204.2,1631.7) scale(1,1.05)" font-family='"Liberation Sans", "DejaVu Sans", sans-serif' font-size="35.5" font-weight="bold" text-anchor="end" fill="#111">100</text>
<text transform="translate(225.9,2645.6) scale(1,1.05)" font-family='"Liberation Sans", "DejaVu Sans", sans-serif' font-size="35.5" font-weight="bold" text-anchor="middle" fill="#111">0</text>
<text transform="translate(412.22,2645.6) scale(1,1.05)" font-family='"Liberation Sans", "DejaVu Sans", sans-serif' font-size="35.5" font-weight="bold" text-anchor="middle" fill="#111">20</text>
<text transform="translate(598.54,2645.6) scale(1,1.05)" font-family='"Liberation Sans", "DejaVu Sans", sans-serif' font-size="35.5" font-weight="bold" text-anchor="middle" fill="#111">40</text>
<text transform="translate(784.86,2645.6) scale(1,1.05)" font-family='"Liberation Sans", "DejaVu Sans", sans-serif' font-size="35.5" font-weight="bold" text-anchor="middle" fill="#111">60</text>
<text transform="translate(971.18,2645.6) scale(1,1.05)" font-family='"Liberation Sans", "DejaVu Sans", sans-serif' font-size="35.5" font-weight="bold" text-anchor="middle" fill="#111">80</text>
<text transform="translate(1157.5,2645.6) scale(1,1.05)" font-family='"Liberation Sans", "DejaVu Sans", sans-serif' font-size="35.5" font-weight="bold" text-anchor="middle" fill="#111">100</text>
<text transform="translate(1343.82,2645.6) scale(1,1.05)" font-family='"Liberation Sans", "DejaVu Sans", sans-serif' font-size="35.5" font-weight="bold" text-anchor="middle" fill="#111">120</text>
</g>
<g fill="#000">
<rect x="326.84" y="2555.23" width="21.7" height="21.7"/>
<rect x="438.63" y="2457.83" width="21.7" height="21.7"/>
<rect x="550.43" y="2267.9" width="21.7" height="21.7"/>
<rect x="662.22" y="2116.93" width="21.7" height="21.7"/>
<rect x="774.01" y="1995.18" width="21.7" height="21.7"/>
<rect x="885.8" y="1934.79" width="21.7" height="21.7"/>
<rect x="997.59" y="1855.9" width="21.7" height="21.7"/>
<rect x="1109.39" y="1788.69" width="21.7" height="21.7"/>
<rect x="1221.18" y="1741.94" width="21.7" height="21.7"/>
<rect x="1332.97" y="1696.16" width="21.7" height="21.7"/>
</g>
<g fill="#000">
<ellipse cx="337.69" cy="2543.68" rx="12.3" ry="12.3"/>
<ellipse cx="449.48" cy="2429.72" rx="12.3" ry="12.3"/>
<ellipse cx="561.28" cy="2244.66" rx="12.3" ry="12.3"/>
<ellipse cx="673.07" cy="2056.68" rx="12.3" ry="12.3"/>
<ellipse cx="784.86" cy="1937.85" rx="12.3" ry="12.3"/>
<ellipse cx="896.65" cy="1818.05" rx="12.3" ry="12.3"/>
<ellipse cx="1008.44" cy="1765.45" rx="12.3" ry="12.3"/>
<ellipse cx="1120.24" cy="1721.62" rx="12.3" ry="12.3"/>
<ellipse cx="1232.03" cy="1692.4" rx="12.3" ry="12.3"/>
<ellipse cx="1343.82" cy="1684.61" rx="12.3" ry="12.3"/>
</g>
<g fill="#000">
<polygon points="337.69,2554.28 323.44,2579.28 351.94,2579.28"/>
<polygon points="449.48,2466.62 435.23,2491.62 463.73,2491.62"/>
<polygon points="561.28,2338.06 547.03,2363.06 575.53,2363.06"/>
<polygon points="673.07,2153 658.82,2178 687.32,2178"/>
<polygon points="784.86,2045.86 770.61,2070.86 799.11,2070.86"/>
<polygon points="896.65,1994.23 882.4,2019.23 910.9,2019.23"/>
<polygon points="1008.44,1918.26 994.19,1943.26 1022.69,1943.26"/>
<polygon points="1120.24,1838.39 1105.99,1863.39 1134.49,1863.39"/>
<polygon points="1232.03,1794.56 1217.78,1819.56 1246.28,1819.56"/>
<polygon points="1343.82,1755.6 1329.57,1780.6 1358.07,1780.6"/>
</g>
<g fill="#000">
<polygon points="337.69,2592.49 323.44,2567.49 351.94,2567.49"/>
<polygon points="449.48,2519.44 435.23,2494.44 463.73,2494.44"/>
<polygon points="561.28,2414.24 547.03,2389.24 575.53,2389.24"/>
<polygon points="673.07,2339.25 658.82,2314.25 687.32,2314.25"/>
<polygon points="784.86,2238.92 770.61,2213.92 799.11,2213.92"/>
<polygon points="896.65,2183.41 882.4,2158.41 910.9,2158.41"/>
<polygon points="1008.44,2027.57 994.19,2002.57 1022.69,2002.57"/>
<polygon points="1120.24,1896.08 1105.99,1871.08 1134.49,1871.08"/>
<polygon points="1232.03,1832.77 1217.78,1807.77 1246.28,1807.77"/>
<polygon points="1343.82,1790.88 1329.57,1765.88 1358.07,1765.88"/>
</g>
<g fill="#000">
<polygon points="337.69,2566.19 352.19,2580.69 337.69,2595.19 323.19,2580.69"/>
<polygon points="449.48,2502.88 463.98,2517.38 449.48,2531.88 434.98,2517.38"/>
<polygon points="561.28,2437.62 575.78,2452.12 561.28,2466.62 546.78,2452.12"/>
<polygon points="673.07,2363.6 687.57,2378.1 673.07,2392.6 658.57,2378.1"/>
<polygon points="784.86,2303.21 799.36,2317.71 784.86,2332.21 770.36,2317.71"/>
<polygon points="896.65,2261.33 911.15,2275.83 896.65,2290.33 882.15,2275.83"/>
<polygon points="1008.44,2157.11 1022.94,2171.61 1008.44,2186.11 993.94,2171.61"/>
<polygon points="1120.24,2047.05 1134.74,2061.55 1120.24,2076.05 1105.74,2061.55"/>
<polygon points="1232.03,1974.97 1246.53,1989.47 1232.03,2003.97 1217.53,1989.47"/>
<polygon points="1343.82,1921.4 1358.32,1935.9 1343.82,1950.4 1329.32,1935.9"/>
</g>
<g fill="#000">
<polygon points="322.69,2583.61 347.69,2569.36 347.69,2597.86"/>
<polygon points="434.48,2531.99 459.48,2517.74 459.48,2546.24"/>
<polygon points="546.28,2475.5 571.28,2461.25 571.28,2489.75"/>
<polygon points="658.07,2426.8 683.07,2412.55 683.07,2441.05"/>
<polygon points="769.86,2385.89 794.86,2371.64 794.86,2400.14"/>
<polygon points="881.65,2344.01 906.65,2329.76 906.65,2358.26"/>
<polygon points="993.44,2267.06 1018.44,2252.81 1018.44,2281.31"/>
<polygon points="1105.24,2178.43 1130.24,2164.18 1130.24,2192.68"/>
<polygon points="1217.03,2052.78 1242.03,2038.53 1242.03,2067.03"/>
<polygon points="1328.82,1969.02 1353.82,1954.77 1353.82,1983.27"/>
</g>
<path fill="#000" d="M225 2597.2H239.5A13 11.5 0 0 0 225 2584.2Z"/>
<path d="M280 1663.2 H365" stroke="#777" stroke-width="2.5"/>
<g fill="#000"><rect x="311.75" y="1652.35" width="21.7" height="21.7"/></g>
<text transform="translate(394.5,1677.2)" font-family='"Liberation Serif", "DejaVu Serif", serif' font-size="37" text-anchor="start" fill="#1a1a1a" stroke="#1a1a1a" stroke-width="0.2"><tspan font-weight="normal">5</tspan><tspan font-weight="bold">mg· </tspan><tspan font-weight="bold" dx="10">L</tspan><tspan font-weight="bold" font-size="24" dy="-22.5" dx="1">−1</tspan></text>
<path d="M280 1718.5 H365" stroke="#444" stroke-width="2.5"/>
<g fill="#000"><ellipse cx="322.6" cy="1718.5" rx="12.3" ry="12.3"/></g>
<text transform="translate(387,1732.5)" font-family='"Liberation Serif", "DejaVu Serif", serif' font-size="37" text-anchor="start" fill="#1a1a1a" stroke="#1a1a1a" stroke-width="0.2"><tspan font-weight="normal">10</tspan><tspan font-weight="bold">mg· </tspan><tspan font-weight="bold" dx="10">L</tspan><tspan font-weight="bold" font-size="24" dy="-22.5" dx="1">−1</tspan></text>
<path d="M280 1773 H365" stroke="#555" stroke-width="2.5"/>
<g fill="#000"><polygon points="322.6,1756.33 308.35,1781.33 336.85,1781.33"/></g>
<text transform="translate(387,1787)" font-family='"Liberation Serif", "DejaVu Serif", serif' font-size="37" text-anchor="start" fill="#1a1a1a" stroke="#1a1a1a" stroke-width="0.2"><tspan font-weight="normal">20</tspan><tspan font-weight="bold">mg· </tspan><tspan font-weight="bold" dx="10">L</tspan><tspan font-weight="bold" font-size="24" dy="-22.5" dx="1">−1</tspan></text>
<path d="M280 1828.8 H365" stroke="#444" stroke-width="2.5"/>
<g fill="#000"><polygon points="322.6,1845.47 308.35,1820.47 336.85,1820.47"/></g>
<text transform="translate(385,1842.8)" font-family='"Liberation Serif", "DejaVu Serif", serif' font-size="37" text-anchor="start" fill="#1a1a1a" stroke="#1a1a1a" stroke-width="0.2"><tspan font-weight="normal">50</tspan><tspan font-weight="bold">mg· </tspan><tspan font-weight="bold" dx="10">L</tspan><tspan font-weight="bold" font-size="24" dy="-22.5" dx="1">−1</tspan></text>
<path d="M280 1884.4 H365" stroke="#999" stroke-width="2.5"/>
<g fill="#000"><polygon points="322.6,1869.9 337.1,1884.4 322.6,1898.9 308.1,1884.4"/></g>
<text transform="translate(374.5,1898.4)" font-family='"Liberation Serif", "DejaVu Serif", serif' font-size="37" text-anchor="start" fill="#1a1a1a" stroke="#1a1a1a" stroke-width="0.2"><tspan font-weight="normal">100</tspan><tspan font-weight="bold">mg· </tspan><tspan font-weight="bold" dx="10">L</tspan><tspan font-weight="bold" font-size="24" dy="-22.5" dx="1">−1</tspan></text>
<path d="M280 1939.7 H365" stroke="#444" stroke-width="2.5"/>
<g fill="#000"><polygon points="307.6,1939.7 332.6,1925.45 332.6,1953.95"/></g>
<text transform="translate(375,1953.7)" font-family='"Liberation Serif", "DejaVu Serif", serif' font-size="37" text-anchor="start" fill="#1a1a1a" stroke="#1a1a1a" stroke-width="0.2"><tspan font-weight="normal">200</tspan><tspan font-weight="bold">mg· </tspan><tspan font-weight="bold" dx="10">L</tspan><tspan font-weight="bold" font-size="24" dy="-22.5" dx="1">−1</tspan></text>
<text transform="translate(867,2700) scale(1,0.95)" font-family='"Liberation Serif", "DejaVu Serif", serif' font-size="55" font-weight="bold" text-anchor="middle" fill="#111">Time (h)</text>
<text transform="translate(79.2,2153.7) rotate(-90) scale(0.96,1)" font-family='"Liberation Serif", "DejaVu Serif", serif' font-size="45.7" font-weight="bold" text-anchor="middle" fill="#111" letter-spacing="0.9">DBP degradation rate(%)</text>
<text transform="translate(1448.4,1591.5) scale(1,1.05)" font-family='"Liberation Serif", "DejaVu Serif", serif' font-size="54" font-weight="normal" text-anchor="middle" fill="#222" letter-spacing="1.2">(B)</text>
</g>
<g id="linesC">
<polyline class="lh" points="225.8,4099.6 337.69,4038.27 449.48,3953.8 561.28,3758.86 673.07,3583.41 784.86,3531.43 896.65,3383.05 1008.44,3316.99 1120.24,3228.18 1232.03,3146.96 1343.82,3117.72"/><polyline class="lc" points="225.8,4099.6 337.69,4038.27 449.48,3953.8 561.28,3758.86 673.07,3583.41 784.86,3531.43 896.65,3383.05 1008.44,3316.99 1120.24,3228.18 1232.03,3146.96 1343.82,3117.72"/>
<path class="eh" d="M337.69 4054.51V4022.02M329.19 4022.02h20M329.19 4054.51h20M449.48 3980.87V3926.72M440.98 3926.72h20M440.98 3980.87h20M561.28 3796.76V3720.95M552.78 3720.95h20M552.78 3796.76h20M673.07 3610.48V3556.33M664.57 3556.33h20M664.57 3610.48h20M784.86 3560.67V3502.18M776.36 3502.18h20M776.36 3560.67h20M896.65 3420.96V3345.15M888.15 3345.15h20M888.15 3420.96h20M1008.44 3340.82V3293.16M999.94 3293.16h20M999.94 3340.82h20M1120.24 3260.68V3195.7M1111.74 3195.7h20M1111.74 3260.68h20M1232.03 3174.03V3119.89M1223.53 3119.89h20M1223.53 3174.03h20M1343.82 3144.79V3090.64M1335.32 3090.64h20M1335.32 3144.79h20"/><path class="ec" d="M337.69 4054.51V4022.02M329.19 4022.02h20M329.19 4054.51h20M449.48 3980.87V3926.72M440.98 3926.72h20M440.98 3980.87h20M561.28 3796.76V3720.95M552.78 3720.95h20M552.78 3796.76h20M673.07 3610.48V3556.33M664.57 3556.33h20M664.57 3610.48h20M784.86 3560.67V3502.18M776.36 3502.18h20M776.36 3560.67h20M896.65 3420.96V3345.15M888.15 3345.15h20M888.15 3420.96h20M1008.44 3340.82V3293.16M999.94 3293.16h20M999.94 3340.82h20M1120.24 3260.68V3195.7M1111.74 3195.7h20M1111.74 3260.68h20M1232.03 3174.03V3119.89M1223.53 3119.89h20M1223.53 3174.03h20M1343.82 3144.79V3090.64M1335.32 3090.64h20M1335.32 3144.79h20"/>
<polyline class="lh" points="225.8,4099.6 337.69,4048.02 449.48,3964.62 561.28,3751.27 673.07,3641.89 784.86,3569.33 896.65,3471.86 1008.44,3349.48 1120.24,3253.09 1232.03,3146.96 1343.82,3103.64"/><polyline class="lc" points="225.8,4099.6 337.69,4048.02 449.48,3964.62 561.28,3751.27 673.07,3641.89 784.86,3569.33 896.65,3471.86 1008.44,3349.48 1120.24,3253.09 1232.03,3146.96 1343.82,3103.64"/>
<path class="eh" d="M337.69 4069.68V4026.36M329.19 4026.36h20M329.19 4069.68h20M449.48 3991.7V3937.55M440.98 3937.55h20M440.98 3991.7h20M561.28 3783.76V3718.78M552.78 3718.78h20M552.78 3783.76h20M673.07 3674.38V3609.4M664.57 3609.4h20M664.57 3674.38h20M784.86 3598.57V3540.09M776.36 3540.09h20M776.36 3598.57h20M896.65 3526.01V3417.71M888.15 3417.71h20M888.15 3526.01h20M1008.44 3403.63V3295.33M999.94 3295.33h20M999.94 3403.63h20M1120.24 3282.34V3223.85M1111.74 3223.85h20M1111.74 3282.34h20M1232.03 3179.45V3114.47M1223.53 3114.47h20M1223.53 3179.45h20M1343.82 3139.38V3067.9M1335.32 3067.9h20M1335.32 3139.38h20"/><path class="ec" d="M337.69 4069.68V4026.36M329.19 4026.36h20M329.19 4069.68h20M449.48 3991.7V3937.55M440.98 3937.55h20M440.98 3991.7h20M561.28 3783.76V3718.78M552.78 3718.78h20M552.78 3783.76h20M673.07 3674.38V3609.4M664.57 3609.4h20M664.57 3674.38h20M784.86 3598.57V3540.09M776.36 3540.09h20M776.36 3598.57h20M896.65 3526.01V3417.71M888.15 3417.71h20M888.15 3526.01h20M1008.44 3403.63V3295.33M999.94 3295.33h20M999.94 3403.63h20M1120.24 3282.34V3223.85M1111.74 3223.85h20M1111.74 3282.34h20M1232.03 3179.45V3114.47M1223.53 3114.47h20M1223.53 3179.45h20M1343.82 3139.38V3067.9M1335.32 3067.9h20M1335.32 3139.38h20"/>
<polyline class="lh" points="225.8,4099.6 337.69,4051.26 449.48,3970.04 561.28,3785.93 673.07,3677.63 784.86,3553.09 896.65,3439.37 1008.44,3354.9 1120.24,3291 1232.03,3230.35 1343.82,3187.03"/><polyline class="lc" points="225.8,4099.6 337.69,4051.26 449.48,3970.04 561.28,3785.93 673.07,3677.63 784.86,3553.09 896.65,3439.37 1008.44,3354.9 1120.24,3291 1232.03,3230.35 1343.82,3187.03"/>
<path class="eh" d="M337.69 4067.51V4035.02M329.19 4035.02h20M329.19 4067.51h20M449.48 3991.7V3948.38M440.98 3948.38h20M440.98 3991.7h20M561.28 3813.01V3758.86M552.78 3758.86h20M552.78 3813.01h20M673.07 3704.7V3650.55M664.57 3650.55h20M664.57 3704.7h20M784.86 3580.16V3526.01M776.36 3526.01h20M776.36 3580.16h20M896.65 3466.45V3412.3M888.15 3412.3h20M888.15 3466.45h20M1008.44 3381.97V3327.82M999.94 3327.82h20M999.94 3381.97h20M1120.24 3328.9V3253.09M1111.74 3253.09h20M1111.74 3328.9h20M1232.03 3273.67V3187.03M1223.53 3187.03h20M1223.53 3273.67h20M1343.82 3224.94V3149.13M1335.32 3149.13h20M1335.32 3224.94h20"/><path class="ec" d="M337.69 4067.51V4035.02M329.19 4035.02h20M329.19 4067.51h20M449.48 3991.7V3948.38M440.98 3948.38h20M440.98 3991.7h20M561.28 3813.01V3758.86M552.78 3758.86h20M552.78 3813.01h20M673.07 3704.7V3650.55M664.57 3650.55h20M664.57 3704.7h20M784.86 3580.16V3526.01M776.36 3526.01h20M776.36 3580.16h20M896.65 3466.45V3412.3M888.15 3412.3h20M888.15 3466.45h20M1008.44 3381.97V3327.82M999.94 3327.82h20M999.94 3381.97h20M1120.24 3328.9V3253.09M1111.74 3253.09h20M1111.74 3328.9h20M1232.03 3273.67V3187.03M1223.53 3187.03h20M1223.53 3273.67h20M1343.82 3224.94V3149.13M1335.32 3149.13h20M1335.32 3224.94h20"/>
<polyline class="lh" points="225.8,4099.6 337.69,4056.68 449.48,3975.45 561.28,3832.5 673.07,3748.03 784.86,3661.39 896.65,3598.57 1008.44,3534.67 1120.24,3488.11 1232.03,3450.2 1343.82,3425.29"/><polyline class="lc" points="225.8,4099.6 337.69,4056.68 449.48,3975.45 561.28,3832.5 673.07,3748.03 784.86,3661.39 896.65,3598.57 1008.44,3534.67 1120.24,3488.11 1232.03,3450.2 1343.82,3425.29"/>
<path class="eh" d="M337.69 4072.93V4040.43M329.19 4040.43h20M329.19 4072.93h20M449.48 3997.11V3953.8M440.98 3953.8h20M440.98 3997.11h20M561.28 3859.57V3805.42M552.78 3805.42h20M552.78 3859.57h20M673.07 3775.1V3720.95M664.57 3720.95h20M664.57 3775.1h20M784.86 3693.88V3628.89M776.36 3628.89h20M776.36 3693.88h20M896.65 3631.06V3566.08M888.15 3566.08h20M888.15 3631.06h20M1008.44 3577.99V3491.35M999.94 3491.35h20M999.94 3577.99h20M1120.24 3509.76V3466.45M1111.74 3466.45h20M1111.74 3509.76h20M1232.03 3488.11V3412.3M1223.53 3412.3h20M1223.53 3488.11h20M1343.82 3452.37V3398.22M1335.32 3398.22h20M1335.32 3452.37h20"/><path class="ec" d="M337.69 4072.93V4040.43M329.19 4040.43h20M329.19 4072.93h20M449.48 3997.11V3953.8M440.98 3953.8h20M440.98 3997.11h20M561.28 3859.57V3805.42M552.78 3805.42h20M552.78 3859.57h20M673.07 3775.1V3720.95M664.57 3720.95h20M664.57 3775.1h20M784.86 3693.88V3628.89M776.36 3628.89h20M776.36 3693.88h20M896.65 3631.06V3566.08M888.15 3566.08h20M888.15 3631.06h20M1008.44 3577.99V3491.35M999.94 3491.35h20M999.94 3577.99h20M1120.24 3509.76V3466.45M1111.74 3466.45h20M1111.74 3509.76h20M1232.03 3488.11V3412.3M1223.53 3412.3h20M1223.53 3488.11h20M1343.82 3452.37V3398.22M1335.32 3398.22h20M1335.32 3452.37h20"/>
<polyline class="lh" points="225.8,4099.6 337.69,4062.09 449.48,3988.45 561.28,3877.99 673.07,3737.2 784.86,3648.39 896.65,3558.5 1008.44,3509.76 1120.24,3479.44 1232.03,3439.37 1343.82,3406.88"/><polyline class="lc" points="225.8,4099.6 337.69,4062.09 449.48,3988.45 561.28,3877.99 673.07,3737.2 784.86,3648.39 896.65,3558.5 1008.44,3509.76 1120.24,3479.44 1232.03,3439.37 1343.82,3406.88"/>
<path class="eh" d="M337.69 4078.34V4045.85M329.19 4045.85h20M329.19 4078.34h20M449.48 4004.7V3972.21M440.98 3972.21h20M440.98 4004.7h20M561.28 3919.14V3836.83M552.78 3836.83h20M552.78 3919.14h20M673.07 3753.44V3720.95M664.57 3720.95h20M664.57 3753.44h20M784.86 3684.13V3612.65M776.36 3612.65h20M776.36 3684.13h20M896.65 3585.57V3531.43M888.15 3531.43h20M888.15 3585.57h20M1008.44 3531.43V3488.11M999.94 3488.11h20M999.94 3531.43h20M1120.24 3508.68V3450.2M1111.74 3450.2h20M1111.74 3508.68h20M1232.03 3471.86V3406.88M1223.53 3406.88h20M1223.53 3471.86h20M1343.82 3439.37V3374.39M1335.32 3374.39h20M1335.32 3439.37h20"/><path class="ec" d="M337.69 4078.34V4045.85M329.19 4045.85h20M329.19 4078.34h20M449.48 4004.7V3972.21M440.98 3972.21h20M440.98 4004.7h20M561.28 3919.14V3836.83M552.78 3836.83h20M552.78 3919.14h20M673.07 3753.44V3720.95M664.57 3720.95h20M664.57 3753.44h20M784.86 3684.13V3612.65M776.36 3612.65h20M776.36 3684.13h20M896.65 3585.57V3531.43M888.15 3531.43h20M888.15 3585.57h20M1008.44 3531.43V3488.11M999.94 3488.11h20M999.94 3531.43h20M1120.24 3508.68V3450.2M1111.74 3450.2h20M1111.74 3508.68h20M1232.03 3471.86V3406.88M1223.53 3406.88h20M1223.53 3471.86h20M1343.82 3439.37V3374.39M1335.32 3374.39h20M1335.32 3439.37h20"/>
<polyline class="lh" points="225.8,4099.6 337.69,4077.26 449.48,4018.78 561.28,3945.13 673.07,3880.15 784.86,3796.76 896.65,3737.2 1008.44,3683.05 1120.24,3639.72 1232.03,3601.82 1343.82,3574.74"/><polyline class="lc" points="225.8,4099.6 337.69,4077.26 449.48,4018.78 561.28,3945.13 673.07,3880.15 784.86,3796.76 896.65,3737.2 1008.44,3683.05 1120.24,3639.72 1232.03,3601.82 1343.82,3574.74"/>
<path class="eh" d="M337.69 4088.09V4066.43M329.19 4066.43h20M329.19 4088.09h20M449.48 4035.02V4002.53M440.98 4002.53h20M440.98 4035.02h20M561.28 3972.21V3918.06M552.78 3918.06h20M552.78 3972.21h20M673.07 3914.81V3845.49M664.57 3845.49h20M664.57 3914.81h20M784.86 3829.25V3764.27M776.36 3764.27h20M776.36 3829.25h20M896.65 3769.68V3704.7M888.15 3704.7h20M888.15 3769.68h20M1008.44 3726.36V3639.72M999.94 3639.72h20M999.94 3726.36h20M1120.24 3661.39V3618.07M1111.74 3618.07h20M1111.74 3661.39h20M1232.03 3650.55V3553.09M1223.53 3553.09h20M1223.53 3650.55h20M1343.82 3601.82V3547.67M1335.32 3547.67h20M1335.32 3601.82h20"/><path class="ec" d="M337.69 4088.09V4066.43M329.19 4066.43h20M329.19 4088.09h20M449.48 4035.02V4002.53M440.98 4002.53h20M440.98 4035.02h20M561.28 3972.21V3918.06M552.78 3918.06h20M552.78 3972.21h20M673.07 3914.81V3845.49M664.57 3845.49h20M664.57 3914.81h20M784.86 3829.25V3764.27M776.36 3764.27h20M776.36 3829.25h20M896.65 3769.68V3704.7M888.15 3704.7h20M888.15 3769.68h20M1008.44 3726.36V3639.72M999.94 3639.72h20M999.94 3726.36h20M1120.24 3661.39V3618.07M1111.74 3618.07h20M1111.74 3661.39h20M1232.03 3650.55V3553.09M1223.53 3553.09h20M1223.53 3650.55h20M1343.82 3601.82V3547.67M1335.32 3547.67h20M1335.32 3601.82h20"/>
</g>
<g id="chartC" filter="url(#soft2)">
<g stroke="#1a1a1a" stroke-width="4.3" fill="none">
<path d="M224.8 3014.2 V4102.75"/>
<path d="M222.65 4100.6 H1438.78"/>
</g><g stroke="#1a1a1a" stroke-width="3.6" fill="none">
<path d="M224.8 3992.14h11.8M224.8 3883.68h21.5M224.8 3775.22h11.8M224.8 3666.76h21.5M224.8 3558.3h11.8M224.8 3449.84h21.5M224.8 3341.38h11.8M224.8 3232.92h21.5M224.8 3124.46h11.8M224.8 3016h21.5M319.06 4100.6v-11.8M412.22 4100.6v-21.5M505.38 4100.6v-11.8M598.54 4100.6v-21.5M691.7 4100.6v-11.8M784.86 4100.6v-21.5M878.02 4100.6v-11.8M971.18 4100.6v-21.5M1064.34 4100.6v-11.8M1157.5 4100.6v-21.5M1250.66 4100.6v-11.8M1343.82 4100.6v-21.5M1436.98 4100.6v-11.8"/>
</g>
<g>
<text transform="translate(204.7,4112.8) scale(1,1.17)" font-family='"Liberation Serif", "DejaVu Serif", serif' font-size="37" font-weight="bold" text-anchor="end" fill="#111" stroke="#111" stroke-width="0.3">0</text>
<text transform="translate(204.7,3896.2) scale(1,1.17)" font-family='"Liberation Serif", "DejaVu Serif", serif' font-size="37" font-weight="bold" text-anchor="end" fill="#111" stroke="#111" stroke-width="0.3">20</text>
<text transform="translate(204.7,3679.6) scale(1,1.17)" font-family='"Liberation Serif", "DejaVu Serif", serif' font-size="37" font-weight="bold" text-anchor="end" fill="#111" stroke="#111" stroke-width="0.3">40</text>
<text transform="translate(204.7,3463) scale(1,1.17)" font-family='"Liberation Serif", "DejaVu Serif", serif' font-size="37" font-weight="bold" text-anchor="end" fill="#111" stroke="#111" stroke-width="0.3">60</text>
<text transform="translate(204.7,3246.4) scale(1,1.17)" font-family='"Liberation Serif", "DejaVu Serif", serif' font-size="37" font-weight="bold" text-anchor="end" fill="#111" stroke="#111" stroke-width="0.3">80</text>
<text transform="translate(204.7,3029.8) scale(1,1.17)" font-family='"Liberation Serif", "DejaVu Serif", serif' font-size="37" font-weight="bold" text-anchor="end" fill="#111" stroke="#111" stroke-width="0.3">100</text>
<text transform="translate(225.9,4156.5) scale(1,1.17)" font-family='"Liberation Serif", "DejaVu Serif", serif' font-size="37" font-weight="bold" text-anchor="middle" fill="#111" stroke="#111" stroke-width="0.3">0</text>
<text transform="translate(412.22,4156.5) scale(1,1.17)" font-family='"Liberation Serif", "DejaVu Serif", serif' font-size="37" font-weight="bold" text-anchor="middle" fill="#111" stroke="#111" stroke-width="0.3">20</text>
<text transform="translate(598.54,4156.5) scale(1,1.17)" font-family='"Liberation Serif", "DejaVu Serif", serif' font-size="37" font-weight="bold" text-anchor="middle" fill="#111" stroke="#111" stroke-width="0.3">40</text>
<text transform="translate(784.86,4156.5) scale(1,1.17)" font-family='"Liberation Serif", "DejaVu Serif", serif' font-size="37" font-weight="bold" text-anchor="middle" fill="#111" stroke="#111" stroke-width="0.3">60</text>
<text transform="translate(971.18,4156.5) scale(1,1.17)" font-family='"Liberation Serif", "DejaVu Serif", serif' font-size="37" font-weight="bold" text-anchor="middle" fill="#111" stroke="#111" stroke-width="0.3">80</text>
<text transform="translate(1157.5,4156.5) scale(1,1.17)" font-family='"Liberation Serif", "DejaVu Serif", serif' font-size="37" font-weight="bold" text-anchor="middle" fill="#111" stroke="#111" stroke-width="0.3">100</text>
<text transform="translate(1343.82,4156.5) scale(1,1.17)" font-family='"Liberation Serif", "DejaVu Serif", serif' font-size="37" font-weight="bold" text-anchor="middle" fill="#111" stroke="#111" stroke-width="0.3">120</text>
</g>
<g fill="#000">
<rect x="326.84" y="4026.23" width="21.7" height="24.09"/>
<rect x="438.63" y="3941.75" width="21.7" height="24.09"/>
<rect x="550.43" y="3746.81" width="21.7" height="24.09"/>
<rect x="662.22" y="3571.37" width="21.7" height="24.09"/>
<rect x="774.01" y="3519.38" width="21.7" height="24.09"/>
<rect x="885.8" y="3371.01" width="21.7" height="24.09"/>
<rect x="997.59" y="3304.95" width="21.7" height="24.09"/>
<rect x="1109.39" y="3216.14" width="21.7" height="24.09"/>
<rect x="1221.18" y="3134.92" width="21.7" height="24.09"/>
<rect x="1332.97" y="3105.68" width="21.7" height="24.09"/>
</g>
<g fill="#000">
<ellipse cx="337.69" cy="4048.02" rx="12.3" ry="13.65"/>
<ellipse cx="449.48" cy="3964.62" rx="12.3" ry="13.65"/>
<ellipse cx="561.28" cy="3751.27" rx="12.3" ry="13.65"/>
<ellipse cx="673.07" cy="3641.89" rx="12.3" ry="13.65"/>
<ellipse cx="784.86" cy="3569.33" rx="12.3" ry="13.65"/>
<ellipse cx="896.65" cy="3471.86" rx="12.3" ry="13.65"/>
<ellipse cx="1008.44" cy="3349.48" rx="12.3" ry="13.65"/>
<ellipse cx="1120.24" cy="3253.09" rx="12.3" ry="13.65"/>
<ellipse cx="1232.03" cy="3146.96" rx="12.3" ry="13.65"/>
<ellipse cx="1343.82" cy="3103.64" rx="12.3" ry="13.65"/>
</g>
<g fill="#000">
<polygon points="337.69,4032.76 323.44,4060.51 351.94,4060.51"/>
<polygon points="449.48,3951.54 435.23,3979.29 463.73,3979.29"/>
<polygon points="561.28,3767.43 547.03,3795.18 575.53,3795.18"/>
<polygon points="673.07,3659.13 658.82,3686.88 687.32,3686.88"/>
<polygon points="784.86,3534.59 770.61,3562.34 799.11,3562.34"/>
<polygon points="896.65,3420.87 882.4,3448.62 910.9,3448.62"/>
<polygon points="1008.44,3336.4 994.19,3364.15 1022.69,3364.15"/>
<polygon points="1120.24,3272.5 1105.99,3300.25 1134.49,3300.25"/>
<polygon points="1232.03,3211.85 1217.78,3239.6 1246.28,3239.6"/>
<polygon points="1343.82,3168.53 1329.57,3196.28 1358.07,3196.28"/>
</g>
<g fill="#000">
<polygon points="337.69,4075.18 323.44,4047.43 351.94,4047.43"/>
<polygon points="449.48,3993.95 435.23,3966.2 463.73,3966.2"/>
<polygon points="561.28,3851 547.03,3823.25 575.53,3823.25"/>
<polygon points="673.07,3766.53 658.82,3738.78 687.32,3738.78"/>
<polygon points="784.86,3679.89 770.61,3652.14 799.11,3652.14"/>
<polygon points="896.65,3617.07 882.4,3589.32 910.9,3589.32"/>
<polygon points="1008.44,3553.17 994.19,3525.42 1022.69,3525.42"/>
<polygon points="1120.24,3506.61 1105.99,3478.86 1134.49,3478.86"/>
<polygon points="1232.03,3468.7 1217.78,3440.95 1246.28,3440.95"/>
<polygon points="1343.82,3443.79 1329.57,3416.04 1358.07,3416.04"/>
</g>
<g fill="#000">
<polygon points="337.69,4046 352.19,4062.09 337.69,4078.19 323.19,4062.09"/>
<polygon points="449.48,3972.36 463.98,3988.45 449.48,4004.55 434.98,3988.45"/>
<polygon points="561.28,3861.89 575.78,3877.99 561.28,3894.08 546.78,3877.99"/>
<polygon points="673.07,3721.1 687.57,3737.2 673.07,3753.29 658.57,3737.2"/>
<polygon points="784.86,3632.29 799.36,3648.39 784.86,3664.48 770.36,3648.39"/>
<polygon points="896.65,3542.41 911.15,3558.5 896.65,3574.59 882.15,3558.5"/>
<polygon points="1008.44,3493.67 1022.94,3509.76 1008.44,3525.86 993.94,3509.76"/>
<polygon points="1120.24,3463.35 1134.74,3479.44 1120.24,3495.54 1105.74,3479.44"/>
<polygon points="1232.03,3423.28 1246.53,3439.37 1232.03,3455.46 1217.53,3439.37"/>
<polygon points="1343.82,3390.79 1358.32,3406.88 1343.82,3422.97 1329.32,3406.88"/>
</g>
<g fill="#000">
<polygon points="322.69,4077.26 347.69,4061.44 347.69,4093.07"/>
<polygon points="434.48,4018.78 459.48,4002.96 459.48,4034.59"/>
<polygon points="546.28,3945.13 571.28,3929.31 571.28,3960.95"/>
<polygon points="658.07,3880.15 683.07,3864.33 683.07,3895.97"/>
<polygon points="769.86,3796.76 794.86,3780.94 794.86,3812.58"/>
<polygon points="881.65,3737.2 906.65,3721.38 906.65,3753.01"/>
<polygon points="993.44,3683.05 1018.44,3667.23 1018.44,3698.86"/>
<polygon points="1105.24,3639.72 1130.24,3623.91 1130.24,3655.54"/>
<polygon points="1217.03,3601.82 1242.03,3586 1242.03,3617.64"/>
<polygon points="1328.82,3574.74 1353.82,3558.93 1353.82,3590.56"/>
</g>
<path fill="#000" d="M224.8 4100.6H239.3A13 12.77 0 0 0 224.8 4086.34Z"/>
<path d="M278 3050.2 H363.8" stroke="#666" stroke-width="2.5"/>
<g fill="#000"><rect x="309.95" y="3038.16" width="21.7" height="24.09"/></g>
<text transform="translate(391,3063.5) scale(1,1.11)" font-family='"Liberation Serif", "DejaVu Serif", serif' font-size="36" text-anchor="start" fill="#1a1a1a" stroke="#1a1a1a" stroke-width="0.3"><tspan font-weight="bold">5g· </tspan><tspan font-weight="bold" dx="13.5">L</tspan><tspan font-weight="bold" font-size="25" dy="-19.5" dx="1.5">−1</tspan></text>
<path d="M278 3111.6 H363.8" stroke="#444" stroke-width="2.5"/>
<g fill="#000"><ellipse cx="320.8" cy="3111.6" rx="12.3" ry="13.65"/></g>
<text transform="translate(383,3124.9) scale(1,1.11)" font-family='"Liberation Serif", "DejaVu Serif", serif' font-size="36" text-anchor="start" fill="#1a1a1a" stroke="#1a1a1a" stroke-width="0.3"><tspan font-weight="bold">10g· </tspan><tspan font-weight="bold" dx="13.5">L</tspan><tspan font-weight="bold" font-size="25" dy="-19.5" dx="1.5">−1</tspan></text>
<path d="M278 3172.8 H363.8" stroke="#444" stroke-width="2.5"/>
<g fill="#000"><polygon points="320.8,3154.3 306.55,3182.05 335.05,3182.05"/></g>
<text transform="translate(382.5,3186.1) scale(1,1.11)" font-family='"Liberation Serif", "DejaVu Serif", serif' font-size="36" text-anchor="start" fill="#1a1a1a" stroke="#1a1a1a" stroke-width="0.3"><tspan font-weight="bold">20g· </tspan><tspan font-weight="bold" dx="13.5">L</tspan><tspan font-weight="bold" font-size="25" dy="-19.5" dx="1.5">−1</tspan></text>
<path d="M278 3233.9 H363.8" stroke="#444" stroke-width="2.5"/>
<g fill="#000"><polygon points="320.8,3252.4 306.55,3224.65 335.05,3224.65"/></g>
<text transform="translate(381.5,3247.2) scale(1,1.11)" font-family='"Liberation Serif", "DejaVu Serif", serif' font-size="36" text-anchor="start" fill="#1a1a1a" stroke="#1a1a1a" stroke-width="0.3"><tspan font-weight="bold">30g· </tspan><tspan font-weight="bold" dx="13.5">L</tspan><tspan font-weight="bold" font-size="25" dy="-19.5" dx="1.5">−1</tspan></text>
<path d="M278 3295.1 H363.8" stroke="#444" stroke-width="2.5"/>
<g fill="#000"><polygon points="320.8,3279.01 335.3,3295.1 320.8,3311.19 306.3,3295.1"/></g>
<text transform="translate(381.5,3308.4) scale(1,1.11)" font-family='"Liberation Serif", "DejaVu Serif", serif' font-size="36" text-anchor="start" fill="#1a1a1a" stroke="#1a1a1a" stroke-width="0.3"><tspan font-weight="bold">50g· </tspan><tspan font-weight="bold" dx="13.5">L</tspan><tspan font-weight="bold" font-size="25" dy="-19.5" dx="1.5">−1</tspan></text>
<path d="M278 3357 H363.8" stroke="#444" stroke-width="2.5"/>
<g fill="#000"><polygon points="305.8,3357 330.8,3341.18 330.8,3372.82"/></g>
<text transform="translate(373.2,3370.3) scale(1,1.11)" font-family='"Liberation Serif", "DejaVu Serif", serif' font-size="36" text-anchor="start" fill="#1a1a1a" stroke="#1a1a1a" stroke-width="0.3"><tspan font-weight="bold">100g· </tspan><tspan font-weight="bold" dx="13.5">L</tspan><tspan font-weight="bold" font-size="25" dy="-19.5" dx="1.5">−1</tspan></text>
<text transform="translate(845.9,4228) scale(1,1.11)" font-family='"Liberation Serif", "DejaVu Serif", serif' font-size="55" font-weight="bold" text-anchor="middle" fill="#111">Time (h)</text>
<text transform="translate(81.5,3587.5) rotate(-90) scale(1.13,1)" font-family='"Liberation Serif", "DejaVu Serif", serif' font-size="46.5" font-weight="bold" text-anchor="middle" fill="#111">DBP degradation rate(%)</text>
<text transform="translate(1432.75,3011) scale(1,1.11)" font-family='"Liberation Serif", "DejaVu Serif", serif' font-size="57" font-weight="bold" text-anchor="middle" fill="#111">(C)</text>
</g></svg></body></html>
